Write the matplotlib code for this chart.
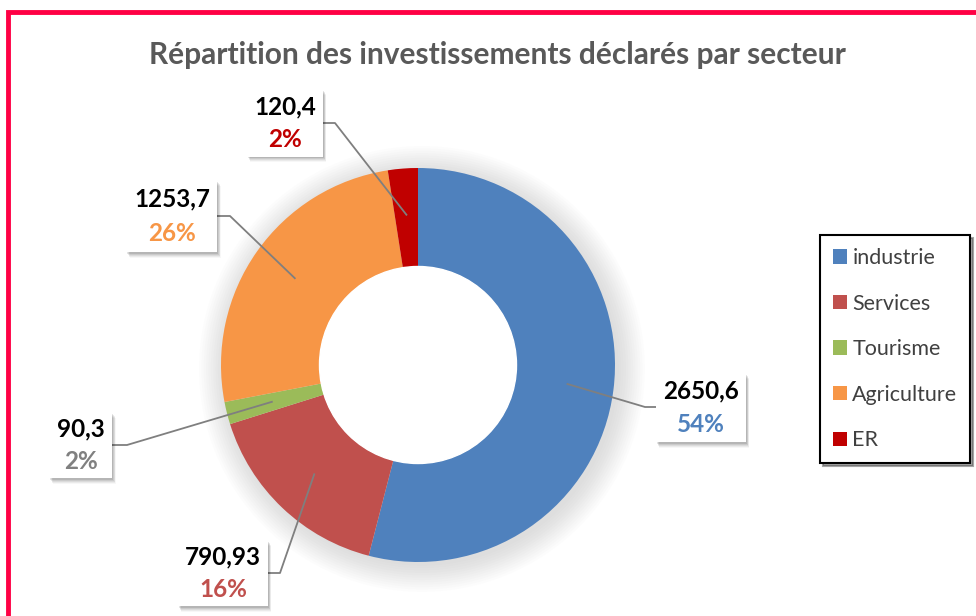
import matplotlib
matplotlib.use('Agg')
import matplotlib.pyplot as plt
import numpy as np
from matplotlib.patches import Rectangle, Patch, Circle

plt.rcParams['font.family'] = ['Lato', 'DejaVu Sans']

# Données
secteurs = ['industrie', 'Services', 'Tourisme', 'Agriculture', 'ER']
valeurs = [2650.6, 790.93, 90.3, 1253.7, 120.4]
valeurs_txt = ['2650,6', '790,93', '90,3', '1253,7', '120,4']
couleurs = ['#4F81BD', '#C0504D', '#9BBB59', '#F79646', '#C00000']
couleurs_pct = ['#4F81BD', '#C0504D', '#808080', '#F79646', '#C00000']
titre = "Répartition des investissements déclarés par secteur"

# Géométrie en pixels (976x616)
W, H = 976, 616
cx, cy, R = 418, 365, 197

def P(x, y):
    # pixels (origine en haut à gauche) -> coordonnées données
    return (x - cx) / R, (cy - y) / R

# boîtes d'étiquettes : centre x, centre y, largeur, hauteur, coude x
boites = [
    (701, 407, 90, 69, 645),
    (223, 573, 90, 66, 280),
    (81, 445, 63, 66, 127),
    (172, 216, 91, 72, 230),
    (285, 123, 76, 67, 335),
]

fig = plt.figure(figsize=(W / 100, H / 100), dpi=100)
ax = fig.add_axes([0, 0, 1, 1])

# ombre douce autour de l'anneau
for k in range(12):
    ax.add_patch(Circle((0.02, -0.02), 1 + 0.012 * k, color='gray',
                        alpha=0.018, lw=0, zorder=0))

wedges, _ = ax.pie(valeurs, colors=couleurs, startangle=90, counterclock=False,
                   radius=1, wedgeprops=dict(width=0.5, edgecolor='none'))
ax.add_patch(Circle((0, 0), 0.5, color='white', zorder=1))

ax.set_aspect('auto')
x0, y0 = P(0, H)
x1, y1 = P(W, 0)
ax.set_xlim(x0, x1)
ax.set_ylim(y0, y1)
ax.axis('off')

total = sum(valeurs)
for w, v, vt, cp, (bx, by, bw, bh, ex) in zip(wedges, valeurs, valeurs_txt,
                                              couleurs_pct, boites):
    th = np.deg2rad((w.theta1 + w.theta2) / 2)
    ancre = (0.765 * np.cos(th), 0.765 * np.sin(th))
    bord = bx + bw / 2 if ex > bx else bx - bw / 2
    coude = P(ex, by)
    fin = P(bord, by)
    ax.plot([ancre[0], coude[0], fin[0]], [ancre[1], coude[1], fin[1]],
            color='#7F7F7F', lw=1.3, zorder=3)
    # ombre de la boîte
    for k, a in enumerate([0.10, 0.08, 0.06, 0.05, 0.03]):
        sx, sy = P(bx - bw / 2 + 1 + k * 0.6, by + bh / 2 + 2 + k)
        ax.add_patch(Rectangle((sx, sy), bw / R, bh / R, color='black',
                               alpha=a, lw=0, zorder=4))
    lx, ly = P(bx - bw / 2, by + bh / 2)
    ax.add_patch(Rectangle((lx, ly), bw / R, bh / R, facecolor='white',
                           edgecolor='none', zorder=5))
    tx, ty = P(bx, by - bh * 0.24)
    ax.text(tx, ty, vt, ha='center', va='center', fontsize=17.5,
            fontweight='bold', color='black', zorder=6)
    tx, ty = P(bx, by + bh * 0.25)
    ax.text(tx, ty, f"{round(v / total * 100):.0f}%", ha='center',
            va='center', fontsize=17.5, fontweight='bold', color=cp, zorder=6)

# titre
fig.text(497 / W, 1 - 55 / H, titre, ha='center', va='center', fontsize=21.5,
         fontweight='bold', color='#595959')

# légende
poignees = [Patch(facecolor=c, edgecolor='none') for c in couleurs]
leg = fig.legend(poignees, secteurs, loc='upper left',
                 bbox_to_anchor=(820 / W, 1 - 235 / H), fontsize=15.5,
                 frameon=True, fancybox=False, shadow=True, edgecolor='black',
                 handlelength=0.65, handleheight=0.65, handletextpad=0.25,
                 labelspacing=1.19, borderpad=0.6, borderaxespad=0)
leg.get_frame().set_linewidth(1.5)
for t in leg.get_texts():
    t.set_color('#404040')

# cadre rose
fig.patches.append(Rectangle((8 / W, -0.05), 1.1, 1.05 - 12 / H,
                             transform=fig.transFigure, fill=False,
                             edgecolor='#FF0044', lw=3.5))

fig.savefig('out.png', dpi=100)
